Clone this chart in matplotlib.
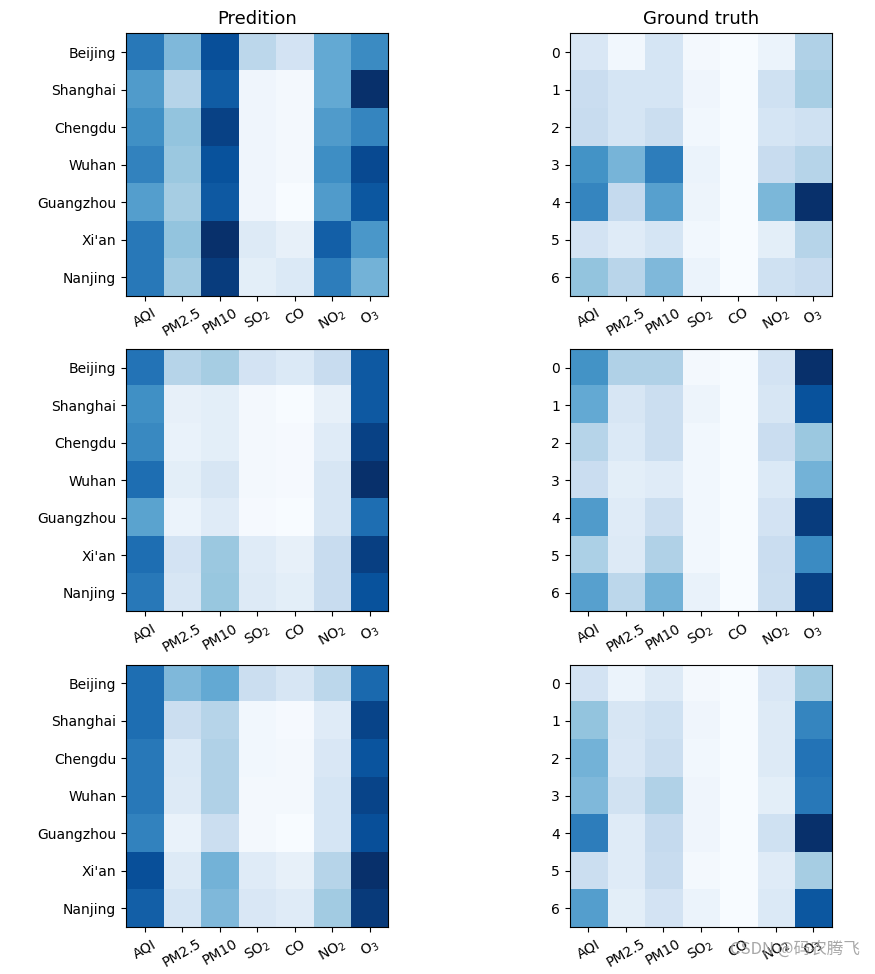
import numpy as np
import matplotlib
matplotlib.use('Agg')
import matplotlib.pyplot as plt

cities = ['Beijing', 'Shanghai', 'Chengdu', 'Wuhan', 'Guangzhou', "Xi'an", 'Nanjing']
pollutants = ['AQI', 'PM2.5', 'PM10', 'SO$_2$', 'CO', 'NO$_2$', 'O$_3$']

# values (relative scale of each panel)
pred_1 = [[0.72, 0.45, 0.88, 0.28, 0.18, 0.52, 0.65],
          [0.58, 0.30, 0.83, 0.04, 0.02, 0.52, 1.00],
          [0.63, 0.40, 0.93, 0.04, 0.02, 0.58, 0.67],
          [0.68, 0.38, 0.87, 0.04, 0.02, 0.64, 0.90],
          [0.57, 0.35, 0.84, 0.04, 0.00, 0.58, 0.85],
          [0.72, 0.40, 1.00, 0.13, 0.08, 0.82, 0.60],
          [0.72, 0.36, 0.95, 0.10, 0.14, 0.70, 0.48]]
truth_1 = [[0.15, 0.03, 0.17, 0.02, 0.00, 0.06, 0.32],
           [0.23, 0.17, 0.17, 0.04, 0.00, 0.20, 0.34],
           [0.24, 0.17, 0.22, 0.03, 0.00, 0.17, 0.20],
           [0.62, 0.47, 0.70, 0.06, 0.00, 0.24, 0.30],
           [0.67, 0.25, 0.56, 0.05, 0.00, 0.46, 1.00],
           [0.18, 0.12, 0.17, 0.03, 0.00, 0.10, 0.30],
           [0.40, 0.29, 0.45, 0.06, 0.00, 0.20, 0.24]]
pred_2 = [[0.74, 0.30, 0.35, 0.18, 0.14, 0.24, 0.84],
          [0.63, 0.08, 0.10, 0.02, 0.00, 0.08, 0.84],
          [0.66, 0.07, 0.10, 0.02, 0.01, 0.12, 0.93],
          [0.76, 0.10, 0.16, 0.02, 0.01, 0.16, 1.00],
          [0.55, 0.06, 0.12, 0.01, 0.00, 0.16, 0.76],
          [0.76, 0.18, 0.38, 0.12, 0.08, 0.24, 0.94],
          [0.72, 0.16, 0.39, 0.13, 0.10, 0.24, 0.87]]
truth_2 = [[0.62, 0.32, 0.32, 0.02, 0.00, 0.18, 1.00],
           [0.52, 0.16, 0.22, 0.05, 0.00, 0.16, 0.87],
           [0.30, 0.14, 0.22, 0.03, 0.00, 0.23, 0.38],
           [0.23, 0.10, 0.12, 0.03, 0.00, 0.14, 0.48],
           [0.58, 0.12, 0.22, 0.03, 0.00, 0.18, 0.95],
           [0.33, 0.13, 0.32, 0.03, 0.00, 0.23, 0.65],
           [0.56, 0.28, 0.48, 0.07, 0.00, 0.22, 0.93]]
pred_3 = [[0.76, 0.45, 0.52, 0.22, 0.16, 0.28, 0.78],
          [0.76, 0.22, 0.30, 0.03, 0.01, 0.12, 0.92],
          [0.72, 0.14, 0.32, 0.03, 0.02, 0.15, 0.86],
          [0.72, 0.13, 0.32, 0.02, 0.02, 0.17, 0.92],
          [0.68, 0.07, 0.22, 0.02, 0.00, 0.17, 0.88],
          [0.88, 0.13, 0.48, 0.12, 0.08, 0.30, 1.00],
          [0.82, 0.17, 0.45, 0.15, 0.12, 0.36, 0.96]]
truth_3 = [[0.18, 0.06, 0.13, 0.02, 0.00, 0.15, 0.37],
           [0.40, 0.16, 0.20, 0.04, 0.00, 0.13, 0.67],
           [0.48, 0.15, 0.22, 0.03, 0.00, 0.13, 0.74],
           [0.45, 0.19, 0.32, 0.04, 0.00, 0.10, 0.72],
           [0.70, 0.12, 0.25, 0.04, 0.00, 0.20, 1.00],
           [0.22, 0.12, 0.24, 0.02, 0.00, 0.12, 0.35],
           [0.57, 0.10, 0.18, 0.06, 0.00, 0.14, 0.85]]

preds = [pred_1, pred_2, pred_3]
truths = [truth_1, truth_2, truth_3]

fig, axes = plt.subplots(3, 2, figsize=(8.75, 9.74), dpi=100)
plt.subplots_adjust(left=0.144, right=0.951, top=0.966, bottom=0.048,
                    wspace=0.69, hspace=0.2)

for i in range(3):
    ax = axes[i, 0]
    ax.imshow(np.array(preds[i]), cmap='Blues')
    ax.set_xticks(range(len(pollutants)))
    ax.set_xticklabels(pollutants, rotation=30)
    ax.set_yticks(range(len(cities)))
    ax.set_yticklabels(cities)

    ax = axes[i, 1]
    ax.imshow(np.array(truths[i]), cmap='Blues')
    ax.set_xticks(range(len(pollutants)))
    ax.set_xticklabels(pollutants, rotation=30)
    ax.set_yticks(range(len(cities)))

axes[0, 0].set_title('Predition', fontsize=13, pad=7)
axes[0, 1].set_title('Ground truth', fontsize=13, pad=7)

fig.text(0.983, 0.017, 'CSDN @码农腾飞', ha='right', va='bottom', fontsize=12,
         color='#999999', alpha=0.85, family=['Noto Sans CJK SC', 'DejaVu Sans'])

plt.savefig('out.png')
